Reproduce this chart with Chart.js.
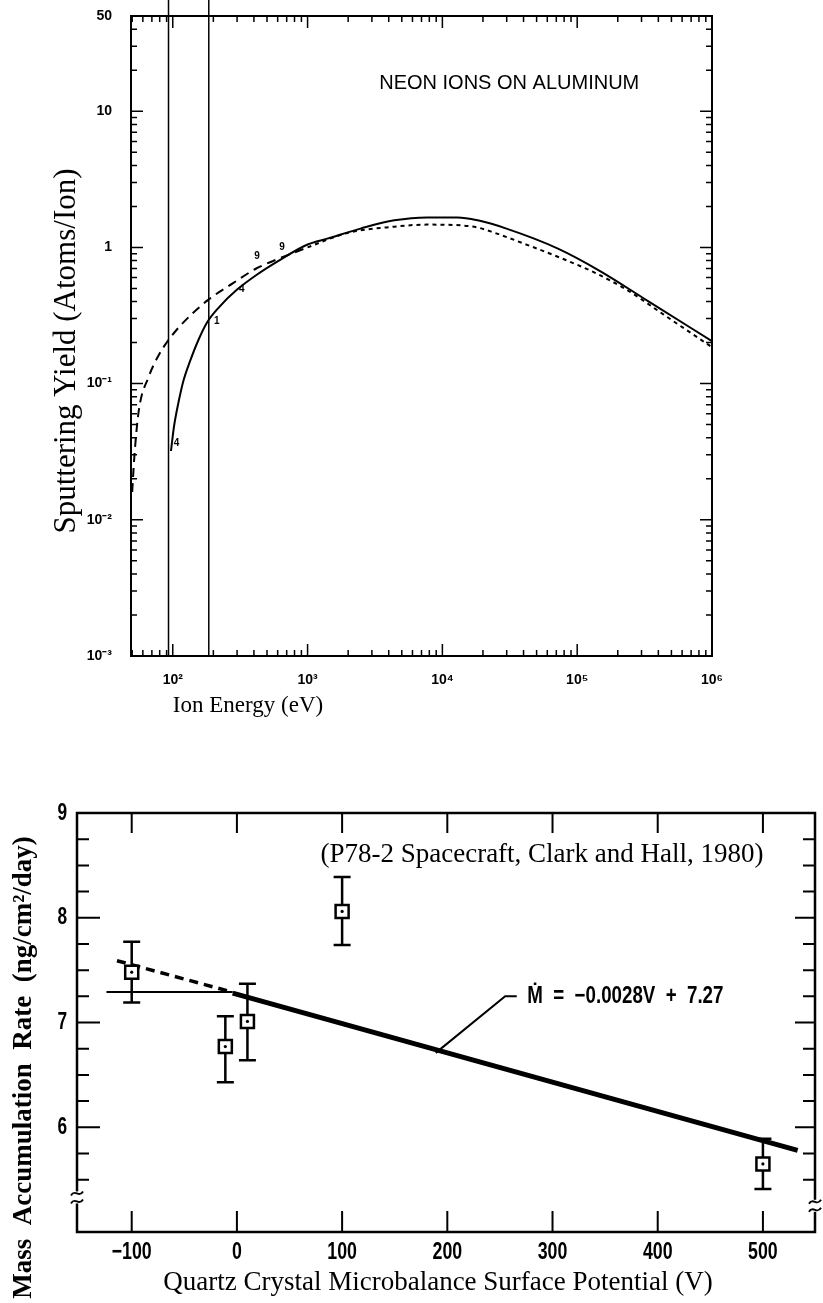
<!DOCTYPE html>
<html>
<head>
<meta charset="utf-8">
<script src="https://cdn.jsdelivr.net/npm/chart.js@4.4.1/dist/chart.umd.min.js"></script>
<style>
  html, body { margin: 0; padding: 0; background: #fff; }
  #wrap { position: relative; width: 823px; height: 1303px; }
  canvas { position: absolute; left: 0; }
</style>
</head>
<body>
<div id="wrap">
  <canvas id="yieldChart" width="823" height="740" style="top:0"></canvas>
  <canvas id="massChart" width="823" height="563" style="top:740px"></canvas>
</div>
<script>
// ---- top plot : sputtering yield, neon ions on aluminum ----
const energySolid = [97, 102, 110, 120, 135, 155, 180, 220, 300, 420, 600, 1000, 1400, 2500, 4400, 7700, 13000, 18300, 29500, 72000, 150000, 340000, 1000000];
const yieldSolid  = [0.032, 0.048, 0.072, 0.105, 0.148, 0.209, 0.282, 0.363, 0.49, 0.63, 0.79, 1.05, 1.16, 1.38, 1.58, 1.66, 1.66, 1.58, 1.38, 0.98, 0.665, 0.40, 0.205];
const energyDashed = [50, 52, 56, 66, 79, 92, 119, 182, 280, 416, 600, 1000, 2000, 4400, 7700, 13900, 18300, 24400, 43000, 77000, 136000, 240000, 430000, 1000000];
const yieldDashed  = [0.016, 0.03, 0.0635, 0.111, 0.163, 0.206, 0.279, 0.41, 0.546, 0.70, 0.82, 1.0, 1.28, 1.42, 1.47, 1.45, 1.40, 1.28, 1.04, 0.83, 0.65, 0.48, 0.325, 0.185];
const markerEnergy = [93, 185];          // the two vertical lines (eV)
const energyTicks = [100, 1000, 10000, 100000, 1000000];
const energyTickLabels = ['10²', '10³', '10⁴', '10⁵', '10⁶'];
const yieldTicks = [0.001, 0.01, 0.1, 1, 10, 50];
const yieldTickLabels = ['10⁻³', '10⁻²', '10⁻¹', '1', '10', '50'];
// little hand written digits sitting on the solid curve
const curveNoteEnergy = [100, 199, 305, 395, 607];
const curveNoteYield = [0.034, 0.27, 0.46, 0.80, 0.94];
const curveNoteText = ['4', '1', '4', '9', '9'];

// ---- bottom plot : mass accumulation vs QCM potential ----
const potential = [-100, -11, 10, 100, 500];
const massRate  = [7.48, 6.77, 7.01, 8.06, 5.65];
const rateHigh  = [7.77, 7.06, 7.37, 8.39, 5.89];
const rateLow   = [7.19, 6.43, 6.64, 7.74, 5.41];
const fitV = [-4, 533];
const fitRate = [7.28, 5.78];
const flatV = [-124, -4];
const flatRate = [7.29, 7.29];
const extV = [-114, -8];
const extRate = [7.59, 7.30];
const leaderV = [266, 255, 189];
const leaderRate = [7.25, 7.25, 6.71];
const potentialTicks = [-100, 0, 100, 200, 300, 400, 500];
const potentialTickLabels = ['−100', '0', '100', '200', '300', '400', '500'];
const rateTicks = [6, 7, 8, 9];

const pts = (xs, ys) => xs.map((v, i) => ({ x: v, y: ys[i] }));
const sans = '"Liberation Sans", Arial, sans-serif';
const serif = '"Liberation Serif", "Times New Roman", serif';

function logMarks(min, max) {
  const out = [];
  for (let e = Math.floor(Math.log10(min)); e <= Math.ceil(Math.log10(max)); e++) {
    for (let k = 1; k < 10; k++) {
      const v = k * Math.pow(10, e);
      if (v >= min * 0.999 && v <= max * 1.001) out.push({ v: v, major: k === 1 });
    }
  }
  return out;
}

// text squeezed sideways, like the narrow typewriter digits of the scan
function narrowText(ctx, text, x, y, sx) {
  ctx.save();
  ctx.translate(x, y);
  ctx.scale(sx, 1);
  ctx.fillText(text, 0, 0);
  ctx.restore();
}

const noLabelPad = s => { s.paddingTop = 0; s.paddingBottom = 0; s.paddingLeft = 0; s.paddingRight = 0; };

const yieldDecor = {
  id: 'yieldDecor',
  afterDatasetsDraw(chart) {
    const { ctx, chartArea: a, scales: { x, y } } = chart;
    ctx.save();
    ctx.strokeStyle = '#000';
    ctx.lineWidth = 2;
    ctx.strokeRect(a.left, a.top, a.right - a.left, a.bottom - a.top);
    // inward ticks on all four sides
    ctx.lineWidth = 1.5;
    ctx.beginPath();
    logMarks(x.min, x.max).forEach(t => {
      const px = x.getPixelForValue(t.v), len = t.major ? 12 : 6;
      ctx.moveTo(px, a.bottom); ctx.lineTo(px, a.bottom - len);
      ctx.moveTo(px, a.top); ctx.lineTo(px, a.top + len);
    });
    logMarks(y.min, y.max).forEach(t => {
      const py = y.getPixelForValue(t.v), len = t.major ? 12 : 6;
      ctx.moveTo(a.left, py); ctx.lineTo(a.left + len, py);
      ctx.moveTo(a.right, py); ctx.lineTo(a.right - len, py);
    });
    ctx.stroke();

    ctx.fillStyle = '#000';
    ctx.font = '20px ' + sans;
    ctx.textAlign = 'left';
    ctx.textBaseline = 'middle';
    ctx.fillText('NEON IONS ON ALUMINUM', x.getPixelForValue(3400), y.getPixelForValue(16));

    ctx.font = 'bold 10px ' + sans;
    curveNoteText.forEach((t, i) => {
      ctx.fillText(t, x.getPixelForValue(curveNoteEnergy[i]) + 1, y.getPixelForValue(curveNoteYield[i]) - 4);
    });

    ctx.font = '31px ' + serif;
    ctx.textAlign = 'center';
    ctx.save();
    ctx.translate(a.left - 64, (a.top + a.bottom) / 2 + 15);
    ctx.rotate(-Math.PI / 2);
    ctx.fillText('Sputtering Yield (Atoms/Ion)', 0, 0);
    ctx.restore();
    ctx.font = '23px ' + serif;
    ctx.fillText('Ion Energy (eV)', a.left + 117, a.bottom + 50);
    ctx.restore();
  }
};

new Chart(document.getElementById('yieldChart'), {
  type: 'scatter',
  data: {
    datasets: [
      {
        data: pts(energySolid, yieldSolid), showLine: true, borderColor: '#000', borderWidth: 2,
        pointRadius: 0, cubicInterpolationMode: 'monotone'
      },
      {
        data: pts(energyDashed, yieldDashed), showLine: true, borderColor: '#000', borderWidth: 2,
        pointRadius: 0, cubicInterpolationMode: 'monotone',
        segment: { borderDash: c => c.p0.parsed.x < 1000 ? [9, 6] : [4, 4] }
      },
      ...markerEnergy.map(e => ({
        data: [{ x: e, y: 0.001 }, { x: e, y: 66 }], showLine: true, borderColor: '#000',
        borderWidth: 1.5, pointRadius: 0, clip: false
      }))
    ]
  },
  options: {
    responsive: false,
    animation: false,
    layout: { autoPadding: false, padding: { top: 16, right: 111, left: 0, bottom: 0 } },
    plugins: { legend: { display: false }, tooltip: { enabled: false } },
    scales: {
      x: {
        type: 'logarithmic', min: 49, max: 1000000,
        grid: { display: false, drawTicks: false },
        border: { display: false },
        afterBuildTicks: s => { s.ticks = energyTicks.map(v => ({ value: v })); },
        afterFit: s => { s.height = 84; noLabelPad(s); },
        ticks: {
          padding: 16, color: '#000', maxRotation: 0, autoSkip: false,
          font: { family: sans, size: 14, weight: 'bold' },
          callback: v => energyTickLabels[energyTicks.indexOf(v)] || ''
        }
      },
      y: {
        type: 'logarithmic', min: 0.001, max: 50,
        grid: { display: false, drawTicks: false },
        border: { display: false },
        afterBuildTicks: s => { s.ticks = yieldTicks.map(v => ({ value: v })); },
        afterFit: s => { s.width = 131; noLabelPad(s); },
        ticks: {
          padding: 19, color: '#000', autoSkip: false,
          font: { family: sans, size: 14, weight: 'bold' },
          callback: v => yieldTickLabels[yieldTicks.indexOf(v)] || ''
        }
      }
    }
  },
  plugins: [yieldDecor]
});

const massDecor = {
  id: 'massDecor',
  beforeDatasetsDraw(chart) {
    const { ctx, scales: { x, y } } = chart;
    ctx.save();
    ctx.strokeStyle = '#000';
    ctx.lineWidth = 2.5;
    ctx.beginPath();
    potential.forEach((v, i) => {
      const px = x.getPixelForValue(v);
      const top = y.getPixelForValue(rateHigh[i]), bot = y.getPixelForValue(rateLow[i]);
      ctx.moveTo(px, top); ctx.lineTo(px, bot);
      ctx.moveTo(px - 8.5, top); ctx.lineTo(px + 8.5, top);
      ctx.moveTo(px - 8.5, bot); ctx.lineTo(px + 8.5, bot);
    });
    ctx.stroke();
    ctx.restore();
  },
  afterDatasetsDraw(chart) {
    const { ctx, chartArea: a, scales: { x, y } } = chart;
    ctx.save();
    ctx.fillStyle = '#000';
    potential.forEach((v, i) => {
      ctx.beginPath();
      ctx.arc(x.getPixelForValue(v), y.getPixelForValue(massRate[i]), 1.6, 0, Math.PI * 2);
      ctx.fill();
    });

    ctx.strokeStyle = '#000';
    ctx.lineWidth = 2.5;
    ctx.strokeRect(a.left, a.top, a.right - a.left, a.bottom - a.top);
    ctx.lineWidth = 2;
    ctx.beginPath();
    potentialTicks.forEach(v => {
      const px = x.getPixelForValue(v);
      ctx.moveTo(px, a.bottom); ctx.lineTo(px, a.bottom - 21);
      ctx.moveTo(px, a.top); ctx.lineTo(px, a.top + 20);
    });
    for (let v = 5.5; v < 9; v += 0.25) {
      const py = y.getPixelForValue(v), major = Math.abs(v - Math.round(v)) < 0.01;
      ctx.moveTo(a.left, py); ctx.lineTo(a.left + (major ? 23 : 12), py);
      ctx.moveTo(a.right, py); ctx.lineTo(a.right - (major ? 20 : 12), py);
    }
    ctx.stroke();

    // axis breaks
    [[a.left, y.getPixelForValue(5.33)], [a.right, y.getPixelForValue(5.25)]].forEach(([bx, by]) => {
      ctx.fillStyle = '#fff';
      ctx.fillRect(bx - 3, by - 6, 6, 12);
      ctx.beginPath();
      [-4, 4].forEach(o => {
        ctx.moveTo(bx - 6, by + o + 2);
        ctx.bezierCurveTo(bx - 2, by + o - 5, bx + 2, by + o + 5, bx + 6, by + o - 2);
      });
      ctx.stroke();
    });

    // tick labels, narrow bold digits
    ctx.fillStyle = '#000';
    ctx.font = 'bold 24px ' + sans;
    ctx.textBaseline = 'middle';
    ctx.textAlign = 'center';
    potentialTicks.forEach((v, i) => narrowText(ctx, potentialTickLabels[i], x.getPixelForValue(v), a.bottom + 20, 0.74));
    ctx.textAlign = 'right';
    rateTicks.forEach(v => narrowText(ctx, String(v), a.left - 10, y.getPixelForValue(v), 0.72));

    ctx.font = '27px ' + serif;
    ctx.textAlign = 'center';
    ctx.fillText('(P78-2 Spacecraft, Clark and Hall, 1980)', x.getPixelForValue(290), y.getPixelForValue(8.6));

    ctx.font = 'bold 24px ' + sans;
    ctx.textAlign = 'left';
    narrowText(ctx, 'Ṁ  =  −0.0028V  +  7.27', x.getPixelForValue(276), y.getPixelForValue(7.25), 0.78);

    ctx.font = 'bold 27px ' + serif;
    ctx.textAlign = 'center';
    ctx.save();
    ctx.translate(a.left - 53, (a.top + a.bottom) / 2 + 45);
    ctx.rotate(-Math.PI / 2);
    ctx.fillText('Mass  Accumulation  Rate  (ng/cm²/day)', 0, 0);
    ctx.restore();
    ctx.font = '27px ' + serif;
    ctx.fillText('Quartz Crystal Microbalance Surface Potential (V)', (a.left + a.right) / 2 - 8, a.bottom + 51);
    ctx.restore();
  }
};

const lineSet = (xs, ys, w, dash) => ({
  data: pts(xs, ys), showLine: true, borderColor: '#000', borderWidth: w,
  borderDash: dash || [], pointRadius: 0, borderCapStyle: 'butt'
});

new Chart(document.getElementById('massChart'), {
  type: 'scatter',
  data: {
    datasets: [
      {
        data: pts(potential, massRate), pointStyle: 'rect', pointRadius: 9.2,
        backgroundColor: '#fff', borderColor: '#000', borderWidth: 2.5
      },
      lineSet(fitV, fitRate, 5),
      lineSet(flatV, flatRate, 2),
      lineSet(extV, extRate, 3.5, [9, 6]),
      lineSet(leaderV, leaderRate, 2)
    ]
  },
  options: {
    responsive: false,
    animation: false,
    layout: { autoPadding: false, padding: { top: 73, right: 8, left: 0, bottom: 0 } },
    plugins: { legend: { display: false }, tooltip: { enabled: false } },
    scales: {
      x: {
        type: 'linear', min: -152, max: 549.5,
        grid: { display: false, drawTicks: false },
        border: { display: false },
        afterBuildTicks: s => { s.ticks = potentialTicks.map(v => ({ value: v })); },
        afterFit: s => { s.height = 71; noLabelPad(s); },
        ticks: { display: false }
      },
      y: {
        type: 'linear', min: 5, max: 9,
        grid: { display: false, drawTicks: false },
        border: { display: false },
        afterBuildTicks: s => { s.ticks = rateTicks.map(v => ({ value: v })); },
        afterFit: s => { s.width = 77; noLabelPad(s); },
        ticks: { display: false }
      }
    }
  },
  plugins: [massDecor]
});
</script>
</body>
</html>
